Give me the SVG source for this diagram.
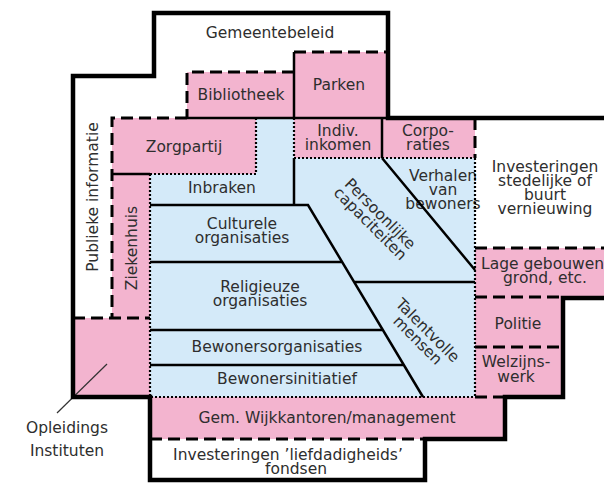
<svg xmlns="http://www.w3.org/2000/svg" width="604" height="483" viewBox="0 0 604 483">
<style>
.p{fill:#f3b4cf}
.b{fill:#d4eaf9}
text{font-family:"DejaVu Sans","Liberation Sans",sans-serif;font-size:15.5px;fill:#2e2e2e;text-anchor:middle}
.st{text-anchor:start}
.thick{fill:none;stroke:#000;stroke-width:4.5;stroke-linejoin:miter;stroke-linecap:square}
.solid{fill:none;stroke:#000;stroke-width:2.5}
.dash{fill:none;stroke:#000;stroke-width:3;stroke-dasharray:12 6}
.dot{fill:none;stroke:#000;stroke-width:2.2;stroke-dasharray:2 2}
</style>
<rect width="604" height="483" fill="#fff"/>

<g id="gemeentebeleid"><text x="270" y="38">Gemeentebeleid</text></g>
<g id="parken"><rect class="p" x="294" y="52" width="94" height="66"/><text x="339" y="90">Parken</text></g>
<g id="bibliotheek"><rect class="p" x="187" y="72" width="107" height="46"/><text x="241" y="100">Bibliotheek</text></g>
<g id="zorgpartij"><rect class="p" x="112" y="118" width="144" height="56"/><text x="184" y="152">Zorgpartij</text></g>
<g id="ziekenhuis"><rect class="p" x="112" y="174" width="38" height="144"/><text transform="translate(137,248) rotate(-90)">Ziekenhuis</text></g>
<g id="publieke-informatie"><text transform="translate(98,197) rotate(-90)">Publieke informatie</text></g>
<g id="opleidings"><rect class="p" x="73" y="318" width="77" height="79"/><line x1="107" y1="364" x2="57" y2="413" stroke="#333" stroke-width="1.2"/><text x="67" y="433">Opleidings<tspan x="67" y="456">Instituten</tspan></text></g>
<g id="blue-area"><polygon class="b" points="256,118 294,118 294,158 475,158 475,397 150,397 150,174 256,174"/></g>
<g id="inbraken"><text x="222" y="193">Inbraken</text></g>
<g id="culturele"><text x="242" y="229">Culturele<tspan x="242" y="243">organisaties</tspan></text></g>
<g id="religieuze"><text x="260" y="292">Religieuze<tspan x="260" y="306">organisaties</tspan></text></g>
<g id="bewonersorganisaties"><text x="277" y="352">Bewonersorganisaties</text></g>
<g id="bewonersinitiatief"><text x="287" y="384">Bewonersinitiatief</text></g>
<g id="persoonlijke"><text transform="translate(376.5,217.5) rotate(45)">Persoonlijke<tspan x="0" y="14">capaciteiten</tspan></text></g>
<g id="talentvolle"><text transform="translate(424,334) rotate(45)">Talentvolle<tspan x="0" y="14">mensen</tspan></text></g>
<g id="verhalen"><text x="443" y="181">Verhalen<tspan x="443" y="195">van</tspan><tspan x="443" y="209">bewoners</tspan></text></g>
<g id="indiv"><rect class="p" x="294" y="118" width="88" height="40"/><text x="338" y="136">Indiv.<tspan x="338" y="150">inkomen</tspan></text></g>
<g id="corporaties"><rect class="p" x="382" y="118" width="93" height="40"/><text x="428" y="136">Corpo-<tspan x="428" y="150">raties</tspan></text></g>
<g id="investeringen-stedelijk"><text x="545" y="172">Investeringen<tspan x="545" y="186">stedelijke of</tspan><tspan x="545" y="200">buurt</tspan><tspan x="545" y="214">vernieuwing</tspan></text></g>
<g id="lage-gebouwen"><rect class="p" x="475" y="248" width="129" height="49"/><text class="st" x="481" y="269">Lage gebouwen<tspan x="545" y="283" style="text-anchor:middle">grond, etc.</tspan></text></g>
<g id="politie"><rect class="p" x="475" y="297" width="88" height="50"/><text x="518" y="329">Politie</text></g>
<g id="welzijnswerk"><rect class="p" x="475" y="347" width="88" height="50"/><text x="516" y="367">Welzijns-<tspan x="516" y="382">werk</tspan></text></g>
<g id="wijkkantoren"><rect class="p" x="150" y="397" width="355" height="42"/><text x="327" y="423">Gem. Wijkkantoren/management</text></g>
<g id="investeringen-liefdadigheid"><text x="288" y="460">Investeringen ’liefdadigheids’<tspan x="296" y="474">fondsen</tspan></text></g>

<g id="connectors">
<path class="dot" d="M256,118 V174 H150 M294,118 V158 H475 M475,158 V397 M150,174 V397 H475"/>
<path class="solid" d="M294,52 V118 M187,118 H388 M382,118 V158 M112,174 H150 M294,158 V205 M150,205 H308 L423,397 M382,158 L475,270 M150,262 H342 M354,282 H475 M150,330 H383 M150,365 H404"/>
<path class="dash" d="M294,52 H388 M294,72 H187 V118 M187,118 H112 V318 M73,318 H150 M475,118 V158 M475,248 H604 M475,297 H563 M475,347 H563 M475,397 H505 M150,439 H425"/>
<path class="thick" d="M604,118 H388 V13 H154 V76 H73 V397 H150 V480 H425 V439 H505 V397 H563 V298 H606"/>
</g>
</svg>
